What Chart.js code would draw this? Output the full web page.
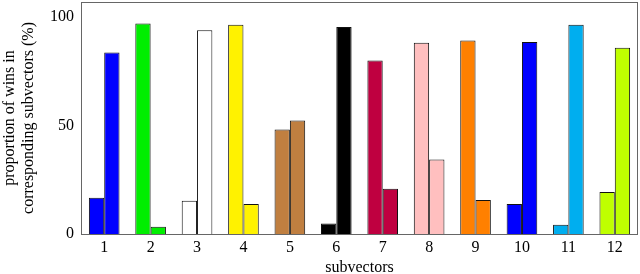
<!DOCTYPE html>
<html><head><meta charset="utf-8">
<script src="https://cdn.jsdelivr.net/npm/chart.js@4/dist/chart.umd.min.js"></script>
<style>html,body{margin:0;padding:0;background:#fff}#wrap{width:640px;height:274px}</style>
</head><body><div id="wrap"><canvas id="c" width="640" height="274"></canvas></div>
<script>
const categories = ['1','2','3','4','5','6','7','8','9','10','11','12'];
const firstBar  = [16.7, 97.1, 15.3, 96.5, 48.2, 4.9, 80.0, 88.2, 89.2, 13.8, 4.3, 19.4];
const secondBar = [83.7, 3.4, 94.0, 13.8, 52.4, 95.5, 20.9, 34.4, 15.7, 88.6, 96.5, 85.9];
const groupColors = ['#0000ff','#00ee00','#ffffff','#fff200','#c07f40','#000000','#bf0040','#ffbfbf','#ff8000','#0000ff','#00aeef','#bfff00'];
const yTicks = [0, 50, 100];

const font = {family: "'Liberation Serif', 'DejaVu Serif', serif", size: 16};

const frame = {
  id: 'frame',
  afterDraw(chart) {
    const a = chart.chartArea, ctx = chart.ctx;
    ctx.save();
    ctx.strokeStyle = '#666';
    ctx.lineWidth = 1;
    ctx.strokeRect(Math.round(a.left) + 0.5, Math.round(a.top) + 0.5, Math.round(a.right - a.left) - 1, Math.round(a.bottom - a.top));
    ctx.restore();
  }
};

new Chart(document.getElementById('c'), {
  type: 'bar',
  data: {
    labels: categories,
    datasets: [
      {data: firstBar, backgroundColor: groupColors, borderColor: '#111', borderWidth: 1},
      {data: secondBar, backgroundColor: groupColors, borderColor: '#111', borderWidth: 1}
    ]
  },
  options: {
    responsive: false,
    animation: false,
    devicePixelRatio: 1,
    layout: {padding: {top: 2, right: 2, left: 0, bottom: 0}},
    plugins: {legend: {display: false}, tooltip: {enabled: false}},
    datasets: {bar: {categoryPercentage: 0.66, barPercentage: 1.0}},
    scales: {
      x: {
        grid: {display: false, drawTicks: false},
        border: {display: false},
        ticks: {font, color: '#000', padding: 4, maxRotation: 0},
        title: {display: true, text: 'subvectors', font: {...font, lineHeight: 1}, color: '#000', padding: {top: 0, bottom: -2}},
        afterFit(s) { s.height = 40; s.paddingLeft = 0; s.paddingRight = 0; }
      },
      y: {
        min: 0, max: 107,
        grid: {display: false, drawTicks: false},
        border: {display: false},
        afterBuildTicks(s) { s.ticks = yTicks.map(v => ({value: v})); },
        ticks: {font, color: '#000', padding: 7},
        title: {display: true, text: ['proportion of wins in', 'corresponding subvectors (%)'], font, color: '#000', padding: {top: 0, bottom: 4}},
        afterFit(s) { s.width = 81; s.paddingTop = 0; s.paddingBottom = 0; }
      }
    }
  },
  plugins: [frame]
});
</script></body></html>
